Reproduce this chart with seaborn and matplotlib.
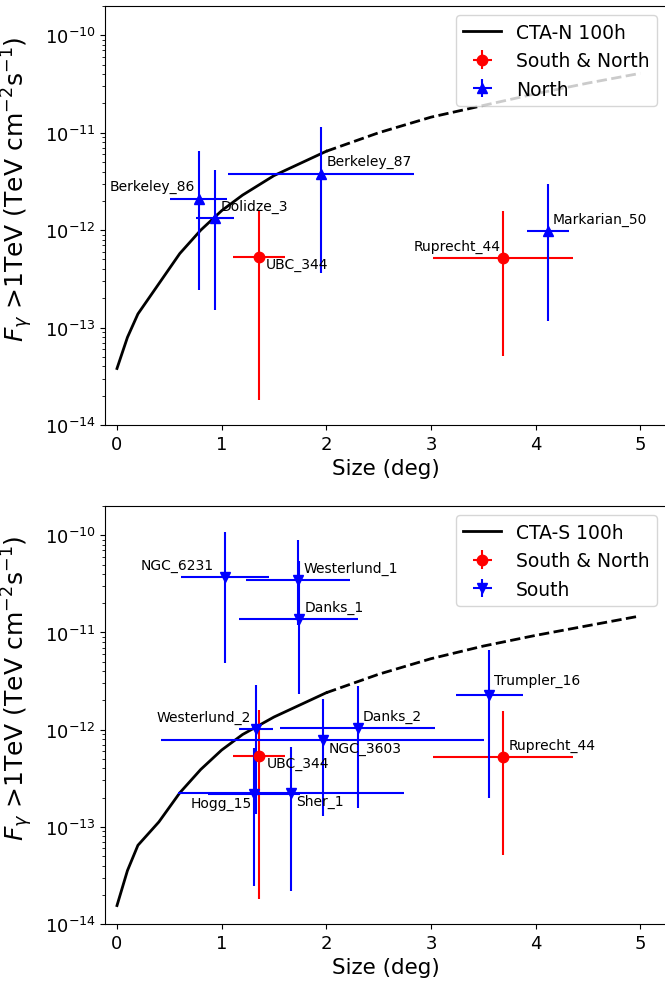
import numpy as np
import seaborn as sns
import matplotlib
matplotlib.use("Agg")
import matplotlib.pyplot as plt

# sensitivity curves (100h), solid up to 2 deg, dashed beyond
curve_size = [0.0, 0.1, 0.2, 0.4, 0.6, 0.8, 1.0, 1.2, 1.5, 2.0, 2.5, 3.0, 3.5, 4.0, 4.5, 5.0]
cta_n_log = [-13.42, -13.10, -12.86, -12.55, -12.24, -12.0, -11.80, -11.64, -11.44, -11.19,
             -11.0, -10.84, -10.72, -10.60, -10.49, -10.39]
cta_s_log = [-13.81, -13.45, -13.19, -12.95, -12.65, -12.41, -12.21, -12.05, -11.87, -11.62,
             -11.43, -11.27, -11.14, -11.03, -10.93, -10.83]

# clusters seen from both sites
both_names = ["UBC_344", "Ruprecht_44"]
both_size = [1.354, 3.687]
both_size_err = [0.25, 0.67]
both_flux = [5.3e-13, 5.2e-13]
both_flux_lo = [1.8e-14, 5.1e-14]
both_flux_hi = [1.6e-12, 1.56e-12]

# north only
north_names = ["Berkeley_86", "Dolidze_3", "Berkeley_87", "Markarian_50"]
north_size = [0.78, 0.935, 1.948, 4.117]
north_size_err = [0.27, 0.18, 0.89, 0.2]
north_flux = [2.1e-12, 1.33e-12, 3.75e-12, 9.7e-13]
north_flux_lo = [2.45e-13, 1.5e-13, 3.6e-13, 1.17e-13]
north_flux_hi = [6.5e-12, 4.1e-12, 1.15e-11, 3.0e-12]

# south only
south_names = ["NGC_6231", "Westerlund_1", "Danks_1", "Westerlund_2", "Hogg_15",
               "Sher_1", "NGC_3603", "Danks_2", "Trumpler_16"]
south_size = [1.034, 1.732, 1.735, 1.33, 1.309, 1.667, 1.966, 2.302, 3.557]
south_size_err = [0.42, 0.495, 0.57, 0.16, 0.44, 1.08, 1.545, 0.74, 0.32]
south_flux = [3.7e-11, 3.46e-11, 1.39e-11, 1.02e-12, 2.2e-13, 2.25e-13, 7.9e-13, 1.04e-12, 2.25e-12]
south_flux_lo = [4.8e-12, 1.2e-11, 2.3e-12, 1.37e-13, 2.45e-14, 2.2e-14, 1.3e-13, 1.58e-13, 2.0e-13]
south_flux_hi = [1.07e-10, 8.9e-11, 5.5e-11, 2.9e-12, 6.4e-13, 6.7e-13, 2.08e-12, 2.8e-12, 6.6e-12]

# label placement (pixel offsets, alignment) for each panel
north_label_pos = {
    "UBC_344": (7, -7, "left"), "Ruprecht_44": (-2, 12, "right"),
    "Berkeley_86": (-4, 13, "right"), "Dolidze_3": (6, 12, "left"),
    "Berkeley_87": (6, 13, "left"), "Markarian_50": (5, 13, "left"),
}
south_label_pos = {
    "UBC_344": (8, -7, "left"), "Ruprecht_44": (6, 12, "left"),
    "NGC_6231": (-11, 12, "right"), "Westerlund_1": (5, 12, "left"),
    "Danks_1": (6, 12, "left"), "Westerlund_2": (-5, 12, "right"),
    "Hogg_15": (-2, -9, "right"), "Sher_1": (5, -8, "left"),
    "NGC_3603": (6, -8, "left"), "Danks_2": (5, 12, "left"),
    "Trumpler_16": (5, 15, "left"),
}


def draw_group(ax, names, x, xerr, y, ylo, yhi, color, marker, label, pos):
    y = np.array(y)
    yerr = [y - np.array(ylo), np.array(yhi) - y]
    h = ax.errorbar(x, y, xerr=xerr, yerr=yerr, fmt=marker, color=color,
                    ms=7.5, lw=1.5, label=label)
    for n, xi, yi in zip(names, x, y):
        dx, dy, ha = pos[n]
        ax.annotate(n, (xi, yi), xytext=(dx, dy), textcoords="offset pixels",
                    ha=ha, va="center", fontsize=10)
    return h


def draw_panel(ax, curve_log, curve_label, group_x, group_label, marker, pos):
    df = {"size": np.array(curve_size), "flux": 10 ** np.array(curve_log)}
    solid = df["size"] <= 2.0
    dashed = df["size"] >= 2.0
    sns.lineplot(x=df["size"][solid], y=df["flux"][solid], ax=ax, color="black",
                 lw=2, estimator=None, label=curve_label)
    sns.lineplot(x=df["size"][dashed], y=df["flux"][dashed], ax=ax, color="black",
                 lw=2, ls="--", estimator=None)
    draw_group(ax, both_names, both_size, both_size_err, both_flux, both_flux_lo,
               both_flux_hi, "red", "o", "South & North", pos)
    draw_group(ax, *group_x, "blue", marker, group_label, pos)
    ax.set_yscale("log")
    ax.set_xlim(-0.11, 5.25)
    ax.set_ylim(1e-14, 2e-10)
    ax.set_xlabel("Size (deg)", fontsize=15.5)
    ax.set_ylabel(r"$F_{\gamma}$ >1TeV (TeV cm$^{-2}$s$^{-1}$)", fontsize=18)
    ax.yaxis.set_label_coords(-0.126, 0.566)
    ax.tick_params(labelsize=13)
    ax.legend(loc="upper right", fontsize=13.5)


fig = plt.figure(figsize=(6.65, 9.87), dpi=100)
ax1 = fig.add_axes([0.1586, 0.5684, 0.8436, 0.4245])
ax2 = fig.add_axes([0.1586, 0.0628, 0.8436, 0.4235])

draw_panel(ax1, cta_n_log, "CTA-N 100h",
           (north_names, north_size, north_size_err, north_flux, north_flux_lo, north_flux_hi),
           "North", "^", north_label_pos)
draw_panel(ax2, cta_s_log, "CTA-S 100h",
           (south_names, south_size, south_size_err, south_flux, south_flux_lo, south_flux_hi),
           "South", "v", south_label_pos)

fig.savefig("out.png", dpi=100)
